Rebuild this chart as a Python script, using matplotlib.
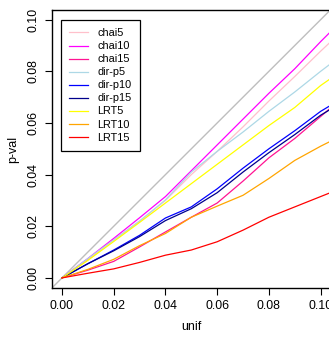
import matplotlib

matplotlib.use("Agg")
import matplotlib.pyplot as plt

# expected uniform quantiles (x) and observed p-value quantiles per method
unif = [0.0, 0.01, 0.02, 0.03, 0.04, 0.05, 0.06, 0.07, 0.08, 0.09, 0.10, 0.105]

chai5 = [0.0, 0.0070, 0.0147, 0.0220, 0.0300, 0.0400, 0.0490, 0.0585, 0.0685, 0.0780, 0.0878, 0.0925]
chai10 = [0.0, 0.0075, 0.0153, 0.0233, 0.0315, 0.0415, 0.0515, 0.0615, 0.0715, 0.0810, 0.0915, 0.0965]
chai15 = [0.0, 0.0030, 0.0064, 0.0120, 0.0178, 0.0235, 0.0290, 0.0375, 0.0465, 0.0540, 0.0625, 0.0668]
dir_p5 = [0.0, 0.0075, 0.0147, 0.0220, 0.0302, 0.0410, 0.0490, 0.0565, 0.0645, 0.0720, 0.0800, 0.0838]
dir_p10 = [0.0, 0.0055, 0.0108, 0.0165, 0.0232, 0.0275, 0.0345, 0.0425, 0.0500, 0.0570, 0.0645, 0.0675]
dir_p15 = [0.0, 0.0055, 0.0105, 0.0160, 0.0222, 0.0268, 0.0330, 0.0410, 0.0485, 0.0555, 0.0630, 0.0660]
lrt5 = [0.0, 0.0068, 0.0141, 0.0215, 0.0290, 0.0365, 0.0440, 0.0515, 0.0590, 0.0660, 0.0745, 0.0780]
lrt10 = [0.0, 0.0033, 0.0072, 0.0125, 0.0172, 0.0235, 0.0278, 0.0320, 0.0385, 0.0455, 0.0510, 0.0535]
lrt15 = [0.0, 0.0018, 0.0035, 0.0060, 0.0088, 0.0108, 0.0140, 0.0185, 0.0235, 0.0275, 0.0315, 0.0335]

labels = ["chai5", "chai10", "chai15", "dir-p5", "dir-p10", "dir-p15", "LRT5", "LRT10", "LRT15"]
colors = ["#FFC0CB", "#FF00FF", "#FF1493", "#ADD8E6", "#0000FF", "#00008B", "#FFFF00", "#FFA500", "#FF0000"]
series = [chai5, chai10, chai15, dir_p5, dir_p10, dir_p15, lrt5, lrt10, lrt15]

ticks = [0.00, 0.02, 0.04, 0.06, 0.08, 0.10]

plt.rcParams["font.family"] = ["Liberation Sans", "DejaVu Sans"]

fig = plt.figure(figsize=(3.29, 3.38), dpi=100)
ax = fig.add_axes([0.157, 0.148, 0.849, 0.822])

ax.axline((0, 0), slope=1, color="#BEBEBE", lw=1.0, zorder=1)
for ys, lab, col in zip(series, labels, colors):
    ax.plot(unif, ys, color=col, lw=0.9, label=lab, zorder=2)

ax.set_xlim(-0.004, 0.104)
ax.set_ylim(-0.0039, 0.1037)
ax.set_xticks(ticks)
ax.set_yticks(ticks)
ax.set_xticklabels([f"{t:.2f}" for t in ticks], fontsize=8.9)
ax.set_yticklabels([f"{t:.2f}" for t in ticks], fontsize=8.9, rotation=90, va="center")
ax.tick_params(direction="out", length=5, width=0.8, pad=4)
for sp in ax.spines.values():
    sp.set_linewidth(1.0)
    sp.set_color("black")

ax.set_xlabel("unif", fontsize=9, labelpad=6)
ax.set_ylabel("p-val", fontsize=9, labelpad=6)

leg = ax.legend(loc="upper left", bbox_to_anchor=(0.033, 0.964), fontsize=7.8,
                frameon=True, fancybox=False, edgecolor="black", framealpha=1,
                handlelength=1.8, handletextpad=0.8, labelspacing=0.28,
                borderpad=0.75, borderaxespad=0)
leg.get_frame().set_linewidth(0.9)

fig.savefig("out.png", dpi=100)
